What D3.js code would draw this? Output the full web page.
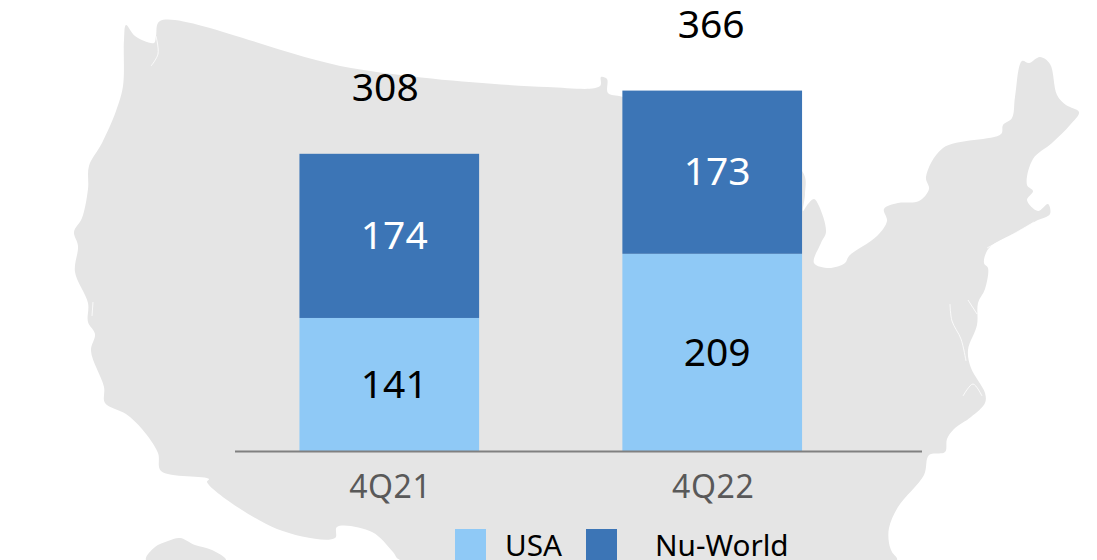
<!DOCTYPE html>
<html><head><meta charset="utf-8">
<script src="https://cdnjs.cloudflare.com/ajax/libs/d3/7.8.5/d3.min.js"></script>
<style>html,body{margin:0;padding:0;background:#fff;overflow:hidden}svg{display:block}text{font-family:"Noto Sans",sans-serif}</style>
</head><body><svg id="c" width="1097" height="560"></svg>
<script>
// Data
const quarters = ["4Q21","4Q22"];
const usa = [141,209];
const nuWorld = [174,173];
const totals = [308,366];
const seriesNames = ["USA","Nu-World"];
const seriesColors = ["#8fc9f6","#3c75b6"];

// Decorative backdrop silhouette (image pixels, not data)
const mainland = [[160,21],[351,68],[547,87],[600,86],[601,77],[607,79],[608,93],[623,97],[802,171],[805,194],[803,211],[808,204],[814,199],[819,206],[826,232],[821,243],[814,263],[829,268],[845,263],[849,256],[877,236],[887,221],[884,209],[898,203],[919,201],[929,189],[926,177],[943,148],[1001,134],[1003,125],[1012,118],[1015,97],[1022,61],[1029,63],[1040,57],[1050,64],[1057,95],[1066,105],[1079,112],[1070,125],[1052,143],[1033,159],[1027,185],[1033,191],[1027,200],[1038,211],[1048,204],[1050,214],[1036,221],[1017,232],[989,248],[984,263],[988,268],[985,289],[978,303],[977,325],[968,350],[971,368],[985,393],[985,403],[971,417],[954,429],[947,439],[945,452],[929,455],[924,475],[898,507],[889,528],[889,543],[892,552],[897,560],[400,560],[393,552],[372,532],[337,527],[335,538],[277,529],[207,482],[209,479],[161,471],[158,453],[142,429],[126,414],[105,403],[104,387],[91,351],[95,334],[88,322],[88,303],[75,272],[78,246],[74,232],[82,218],[88,189],[89,166],[102,143],[116,111],[123,86],[124,40],[126,25],[135,36],[154,43],[156,36]];
const alaskaTip = [[146,560],[155,547],[168,541],[180,538],[195,545],[212,550],[226,560]];
const inlets = [
  [[950,304],[952,321],[961,339],[966,361]],
  [[968,300],[977,314]],
  [[987,248],[1017,232],[1034,222]],
  [[963,396],[973,384],[982,396]],
  [[156,36],[158,54],[151,66]],
  [[93,302],[92,316]]
];

const svg = d3.select("#c");
const outline = d3.line().curve(d3.curveCatmullRomClosed.alpha(0.5));
svg.append("path").attr("d",outline(mainland)).attr("fill","#e5e5e5");
svg.append("path").attr("d",outline(alaskaTip)).attr("fill","#e5e5e5");
const inletLine = d3.line().curve(d3.curveCatmullRom.alpha(0.5));
svg.selectAll("path.i").data(inlets).join("path").attr("class","i").attr("d",inletLine)
  .attr("fill","none").attr("stroke","#fff").attr("stroke-width",1).attr("stroke-opacity",0.8);

const baseY = 451, unit = 0.9435;
const x = d3.scaleBand().domain(quarters).range([235.5,866]).paddingInner(0.4436).paddingOuter(0.198);
const y = d3.scaleLinear().domain([0,400]).range([baseY, baseY-400*unit]);

const rows = quarters.map((q,i)=>({q,USA:usa[i],"Nu-World":nuWorld[i],total:totals[i]}));
const stacked = d3.stack().keys(seriesNames)(rows);
const color = d3.scaleOrdinal(seriesNames,seriesColors);

svg.selectAll("g.s").data(stacked).join("g").attr("class","s").attr("fill",d=>color(d.key))
  .selectAll("rect").data(d=>d).join("rect")
  .attr("x",d=>x(d.data.q)).attr("width",x.bandwidth())
  .attr("y",d=>y(d[1])).attr("height",d=>y(d[0])-y(d[1]));

// Baseline + category labels
const axis = d3.axisBottom(x).tickSize(0).tickPadding(24);
const gx = svg.append("g").attr("transform",`translate(0,${baseY})`).call(axis);
gx.select(".domain").remove();
gx.selectAll("text").attr("font-size",32).attr("fill","#595959").attr("font-family",'"Noto Sans",sans-serif').attr("letter-spacing","0.6px").attr("dx",1);
svg.append("line").attr("x1",235).attr("x2",922).attr("y1",baseY+0.5).attr("y2",baseY+0.5).attr("stroke","#808080").attr("stroke-width",2);

// Value labels
const labelColor = ["#000","#fff"];
stacked.forEach((s,k)=>{
  svg.selectAll("text.v"+k).data(s).join("text").attr("class","v"+k)
    .attr("x",d=>x(d.data.q)+x.bandwidth()/2+5)
    .attr("y",d=>(y(d[0])+y(d[1]))/2-0.8)
    .attr("dy","0.357em").attr("text-anchor","middle").attr("font-size",39).attr("fill",labelColor[k])
    .text(d=>d[1]-d[0]);
});
const totalDx = [-4,-1];
svg.selectAll("text.t").data(stacked[1]).join("text").attr("class","t")
  .attr("x",(d,i)=>x(d.data.q)+x.bandwidth()/2+totalDx[i])
  .attr("y",d=>y(d[1])-53)
  .attr("text-anchor","middle").attr("font-size",39).attr("fill","#000")
  .text(d=>d.data.total);

// Legend
const swatchX = [455,586], labelX = [505,655];
seriesNames.forEach((n,i)=>{
  svg.append("rect").attr("x",swatchX[i]).attr("y",529).attr("width",31).attr("height",31).attr("fill",color(n));
  svg.append("text").attr("x",labelX[i]).attr("y",556).attr("font-size",29.7).attr("fill","#000").text(n);
});
</script></body></html>
